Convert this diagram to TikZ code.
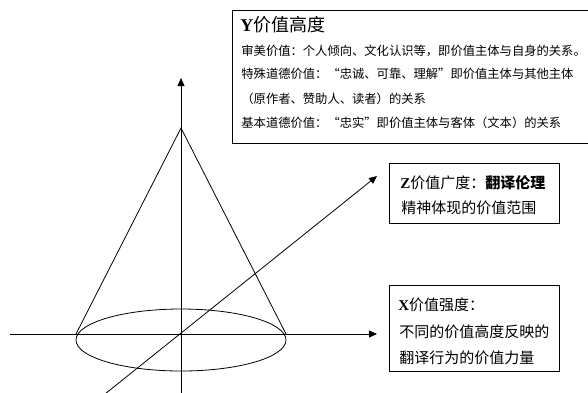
\documentclass[tikz,border=0pt]{standalone}
\usepackage{fontspec}
\setmainfont{Liberation Serif}
\newfontfamily\cjk{Noto Sans CJK SC}
\newfontfamily\lat{Liberation Serif}
\usetikzlibrary{arrows.meta}
\begin{document}
\begin{tikzpicture}[x=1pt,y=-1pt,line width=0.8pt,
  axisarrow/.style={-{Triangle[length=8pt,width=7pt]}},
  frame/.style={draw,line width=1pt,inner sep=0pt,anchor=north west},
  small/.style={inner sep=0pt,anchor=west,font=\cjk\fontsize{12.3}{14}\selectfont},
  mid/.style={inner sep=0pt,anchor=west,font=\cjk\fontsize{15}{17}\selectfont},
  big/.style={inner sep=0pt,anchor=west,font=\cjk\fontsize{18}{20}\selectfont}]
\useasboundingbox (0,0) rectangle (588,392);
\clip (0,0) rectangle (588,392);
% top box
\node[frame,line width=1.3pt,minimum width=380pt,minimum height=133pt] (topbox) at (232,10) {};
\node[big] (ytitle) at (240,25) {{\lat\bfseries Y}价值高度};
\node[small] (t1) at (241,51) {审美价值：个人倾向、文化认识等，即价值主体与自身的关系。};
\node[small] (t2) at (241,74) {特殊道德价值：“忠诚、可靠、理解”即价值主体与其他主体};
\node[small] (t3) at (241,99) {（原作者、赞助人、读者）的关系};
\node[small] (t4) at (241,123) {基本道德价值：“忠实”即价值主体与客体（文本）的关系};
% Z box
\node[frame,minimum width=170pt,minimum height=60pt] (zbox) at (389,163) {};
\node[mid] (z1) at (400,183) {{\lat\bfseries Z}价值广度：{\bfseries 翻译伦理}};
\node[mid] (z2) at (401,208) {精神体现的价值范围};
% X box
\node[frame,minimum width=170pt,minimum height=86pt] (xbox) at (389,285) {};
\node[mid] (x1) at (398,305) {{\lat\bfseries X}价值强度：};
\node[mid] (x2) at (399,332) {不同的价值高度反映的};
\node[mid] (x3) at (399,358) {翻译行为的价值力量};
% axes
\coordinate (xl) at (10,334);
\coordinate (xr) at (377,334);
\coordinate (yb) at (181,394);
\coordinate (yt) at (181,78);
\coordinate (zb) at (105,394);
\coordinate (zt) at (377,176);
\draw[axisarrow] (xl) -- (xr);
\draw[axisarrow] (yb) -- (yt);
\draw[axisarrow] (zb) -- (zt);
% cone
\coordinate (apex) at (181,128);
\coordinate (bl) at (76,334);
\coordinate (br) at (286,334);
\draw (bl) -- (apex) -- (br);
\draw (181,340) ellipse [x radius=105pt, y radius=31pt];
\end{tikzpicture}
\end{document}
